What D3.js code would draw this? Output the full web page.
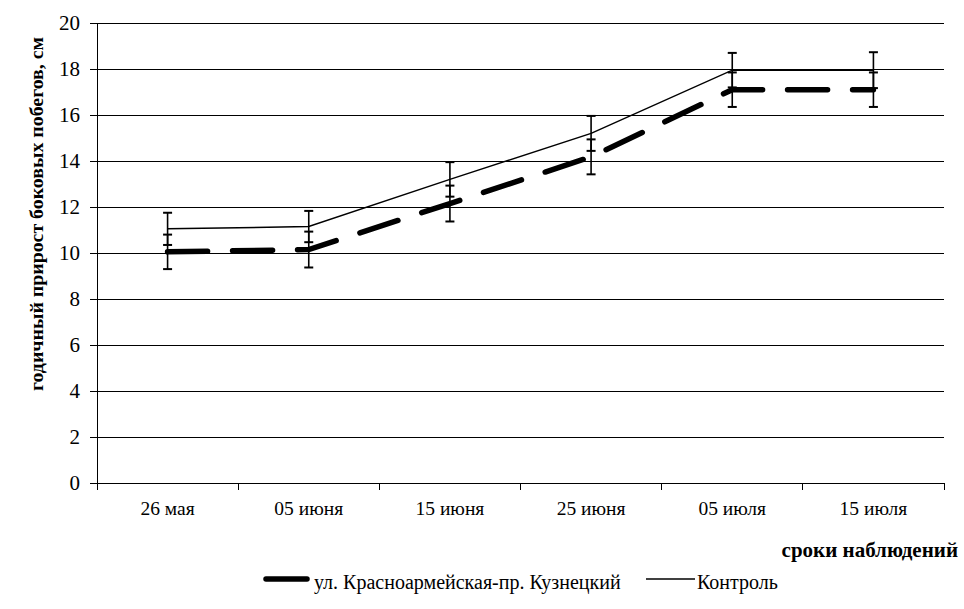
<!DOCTYPE html>
<html><head><meta charset="utf-8">
<script src="https://cdn.jsdelivr.net/npm/d3@7"></script>
<style>body{margin:0;background:#fff}svg{display:block}
svg text{font-family:"Liberation Serif","Times New Roman",serif;fill:#000}</style>
</head><body>
<svg id="c" width="964" height="609"></svg>
<script>
const categories = ["26 мая","05 июня","15 июня","25 июня","05 июля","15 июля"];
const seriesNames = ["ул. Красноармейская-пр. Кузнецкий","Контроль"];
const redValues = [10.05, 10.15, 12.15, 14.18, 17.1, 17.1];
const redErr = [0.75, 0.78, 0.78, 0.76, 0.75, 0.75];
const ctrlValues = [11.05, 11.15, 13.2, 15.2, 17.95, 17.95];
const ctrlErr = [0.7, 0.68, 0.75, 0.76, 0.75, 0.78];
const yTicks = [0,2,4,6,8,10,12,14,16,18,20];
const yTitle = "годичный прирост боковых побегов, см";
const xTitle = "сроки наблюдений";

const svg = d3.select("#c");
const L = 97, R = 944, T = 23, B = 483;
const x = d3.scaleBand().domain(categories).range([L, R]);
const y = d3.scaleLinear().domain([0, 20]).range([B, T]);

// gridlines
svg.append("g").selectAll("line").data(yTicks.filter(d => d > 0)).join("line")
  .attr("x1", L).attr("x2", R).attr("y1", d => y(d)).attr("y2", d => y(d))
  .attr("stroke", "#000").attr("stroke-width", 1).attr("shape-rendering", "crispEdges");

// y axis
const ya = svg.append("g").attr("transform", `translate(${L},0)`)
  .call(d3.axisLeft(y).tickValues(yTicks).tickSize(7).tickPadding(10).tickSizeOuter(0));
ya.attr("font-family", null);
ya.selectAll("text").attr("font-size", 21);
ya.selectAll("line,path").attr("stroke", "#000").attr("shape-rendering", "crispEdges");

// x axis
const xa = svg.append("g").attr("transform", `translate(0,${B})`)
  .call(d3.axisBottom(x).tickSize(0));
xa.attr("font-family", null);
xa.selectAll("text").attr("font-size", 19.5).attr("y", 32).attr("dy", 0);
xa.select("path").attr("stroke", "#000").attr("shape-rendering", "crispEdges");
// band boundary ticks
xa.append("g").selectAll("line").data(categories.map((c, i) => i).concat([categories.length]))
  .join("line")
  .attr("x1", i => i < categories.length ? x(categories[i]) : x(categories[i-1]) + x.bandwidth())
  .attr("x2", i => i < categories.length ? x(categories[i]) : x(categories[i-1]) + x.bandwidth())
  .attr("y1", 0).attr("y2", 7).attr("stroke", "#000").attr("shape-rendering", "crispEdges");

const cx = c => x(c) + x.bandwidth() / 2;

// lines
const line = d3.line().x((d, i) => cx(categories[i])).y(d => y(d));
svg.append("path").datum(ctrlValues).attr("d", line)
  .attr("fill", "none").attr("stroke", "#000").attr("stroke-width", 1.5);
svg.append("path").datum(redValues).attr("d", line)
  .attr("fill", "none").attr("stroke", "#000").attr("stroke-width", 5.5)
  .attr("stroke-dasharray", "40,25").attr("stroke-linecap", "round");

// error bars
function errBars(vals, errs) {
  const g = svg.append("g").attr("stroke", "#000").attr("stroke-width", 1.6);
  vals.forEach((v, i) => {
    const xc = cx(categories[i]);
    g.append("line").attr("x1", xc).attr("x2", xc).attr("y1", y(v - errs[i])).attr("y2", y(v + errs[i]));
    [v - errs[i], v + errs[i]].forEach(e => {
      g.append("line").attr("x1", xc - 4.5).attr("x2", xc + 4.5).attr("y1", y(e)).attr("y2", y(e)).attr("stroke-width", 2);
    });
  });
}
errBars(ctrlValues, ctrlErr);
errBars(redValues, redErr);

// titles
svg.append("text").attr("transform", `translate(43,214) rotate(-90)`)
  .attr("text-anchor", "middle").attr("font-weight", "bold")
  .attr("font-size", 19).attr("textLength", 354).attr("lengthAdjust", "spacingAndGlyphs").text(yTitle);
svg.append("text").attr("x", 958).attr("y", 557).attr("text-anchor", "end")
  .attr("font-weight", "bold").attr("font-size", 21).text(xTitle);

// legend
const lg = svg.append("g");
lg.append("line").attr("x1", 266).attr("x2", 307).attr("y1", 579).attr("y2", 579)
  .attr("stroke", "#000").attr("stroke-width", 5.5).attr("stroke-linecap", "round");
lg.append("text").attr("x", 314).attr("y", 589).attr("font-size", 20).text(seriesNames[0]);
lg.append("line").attr("x1", 646).attr("x2", 695).attr("y1", 579).attr("y2", 579)
  .attr("stroke", "#000").attr("stroke-width", 1.5);
lg.append("text").attr("x", 697).attr("y", 589).attr("font-size", 20).text(seriesNames[1]);
</script>
</body></html>
